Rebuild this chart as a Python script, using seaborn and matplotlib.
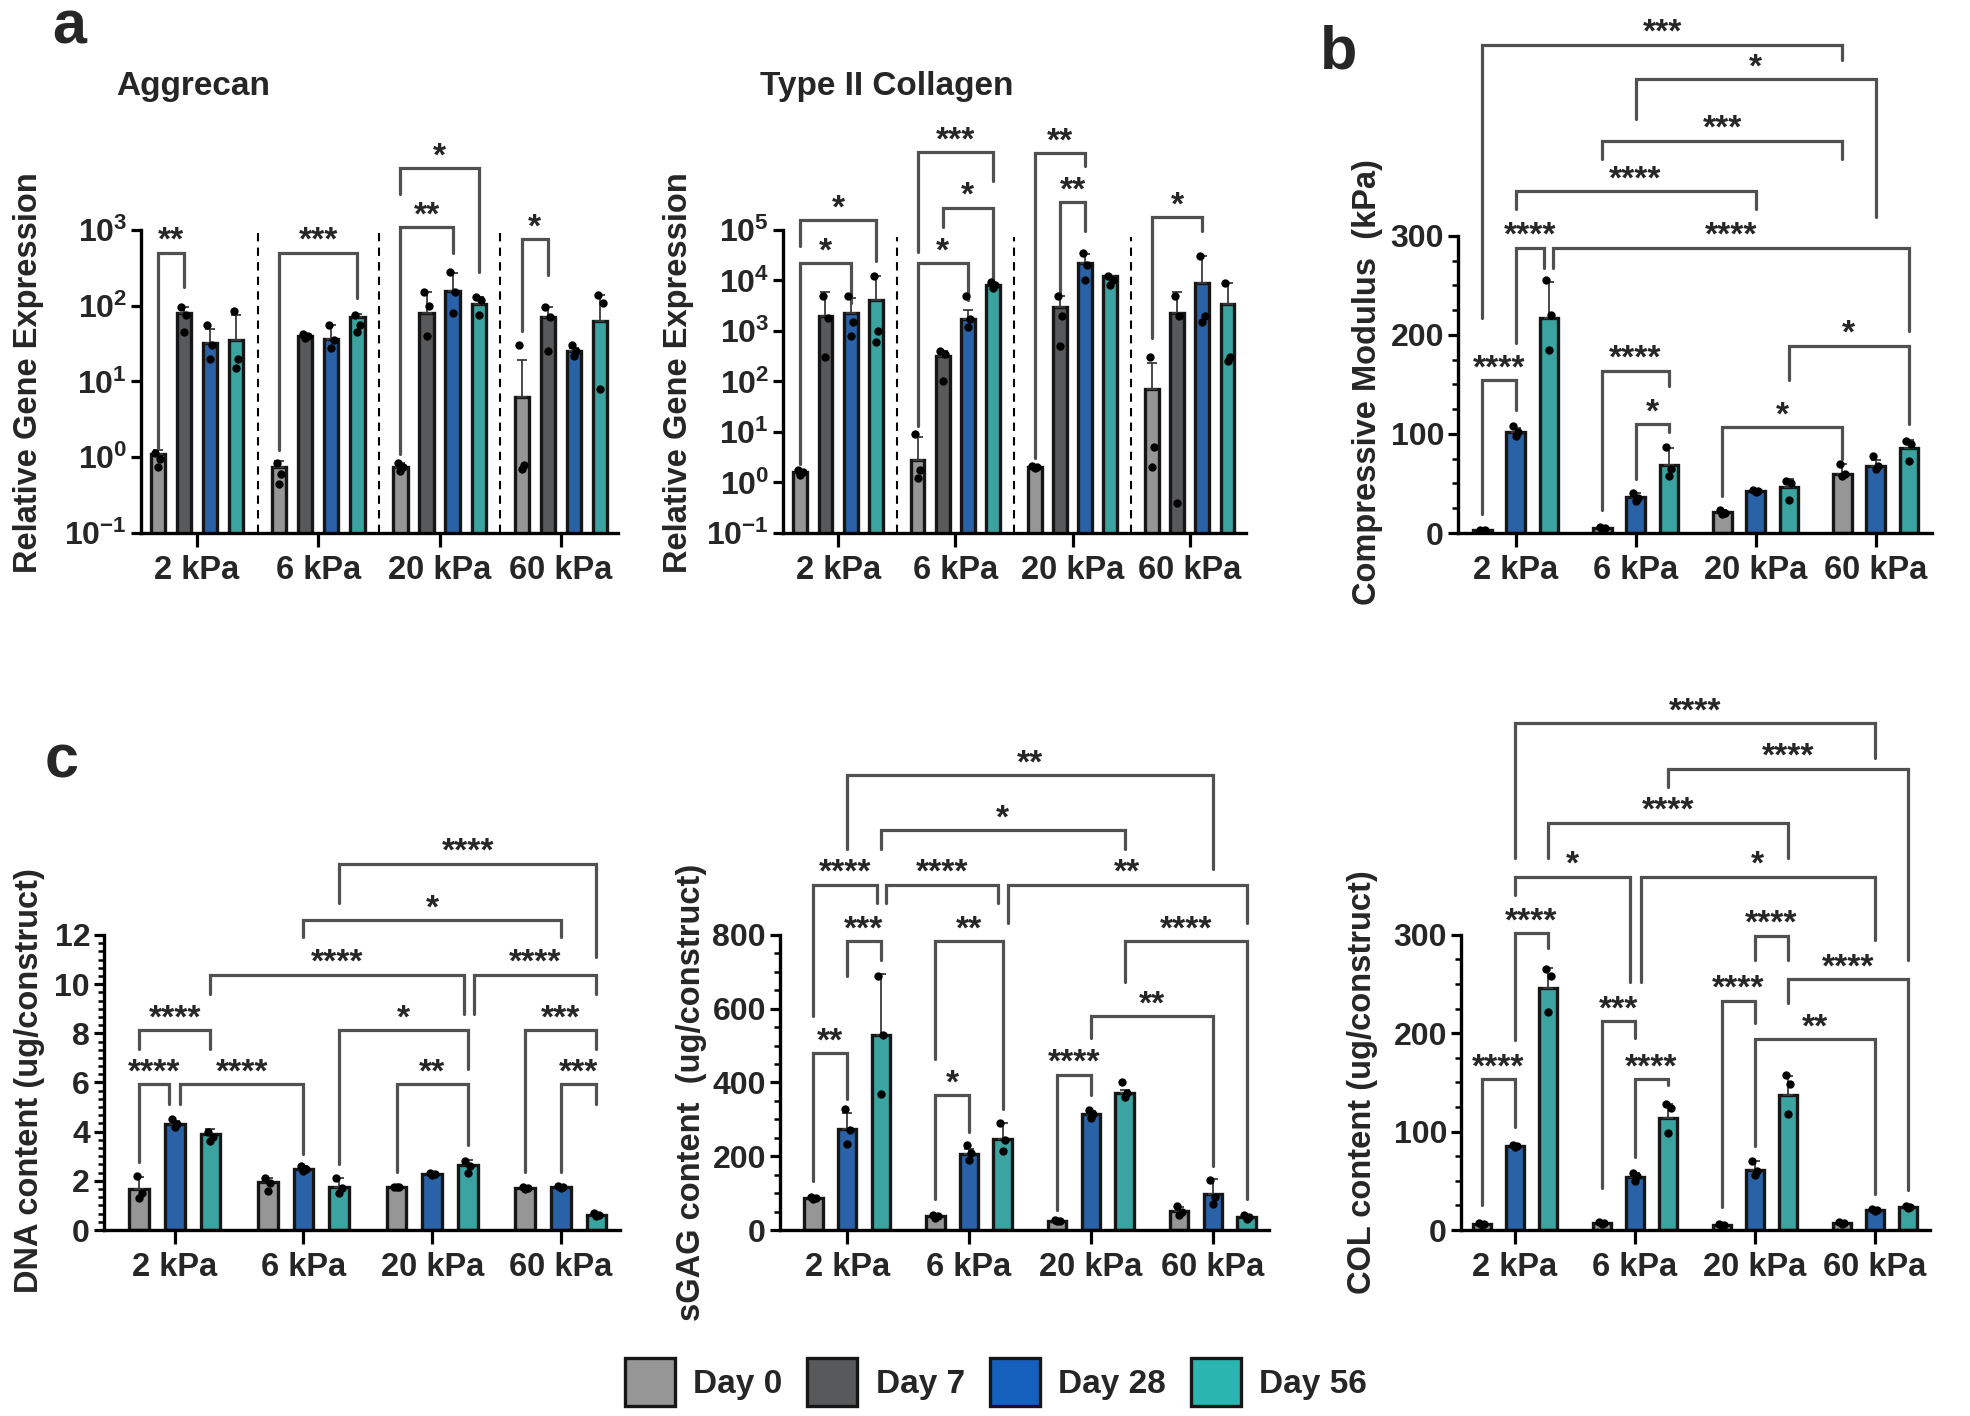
import numpy as np
import pandas as pd
import matplotlib
matplotlib.use("Agg")
import matplotlib.pyplot as plt
from matplotlib.patches import Patch
from matplotlib.ticker import FixedLocator, NullLocator
import seaborn as sns

sns.set_theme(style="ticks")
plt.rcParams['font.family'] = ['Liberation Sans', 'DejaVu Sans']
plt.rcParams['font.weight'] = 'bold'
plt.rcParams['axes.labelweight'] = 'bold'
plt.rcParams['mathtext.fontset'] = 'custom'
plt.rcParams['mathtext.rm'] = 'Liberation Sans:bold'
plt.rcParams['mathtext.bf'] = 'Liberation Sans:bold'

# ---------------- data ----------------
stiffness = ["2 kPa", "6 kPa", "20 kPa", "60 kPa"]
days4 = ["Day 0", "Day 7", "Day 28", "Day 56"]
days3 = ["Day 0", "Day 28", "Day 56"]
palette = {"Day 0": "#969696", "Day 7": "#58595b", "Day 28": "#1560bd", "Day 56": "#2ab5b0"}

# Aggrecan relative gene expression (mean, SD, replicates) per stiffness x day
agg_mean = [[1.1, 79, 32, 35], [0.75, 40, 36, 72], [0.75, 79, 158, 105], [6.3, 70, 25, 63]]
agg_sd = [[0.15, 16, 18, 41], [0.15, 3, 19, 6], [0.1, 71, 112, 25], [12.7, 25, 3, 77]]
agg_pts = [
    [[1.15, 0.95, 0.75], [95, 75, 45], [55, 30, 20], [85, 20, 15]],
    [[0.85, 0.6, 0.45], [42, 40, 38], [55, 35, 28], [75, 55, 45]],
    [[0.85, 0.75, 0.65], [150, 100, 40], [280, 150, 80], [130, 120, 75]],
    [[30, 0.8, 0.7], [95, 70, 25], [30, 25, 22], [140, 110, 8]],
]

# Type II collagen relative gene expression
col2_mean = [[1.6, 2000, 2300, 4200], [2.8, 316, 1750, 8000], [2.0, 3000, 22000, 12000], [70, 2300, 9100, 3500]]
col2_sd = [[0.2, 3900, 2300, 7800], [5.2, 84, 850, 1000], [0.1, 2000, 12000, 500], [164, 3600, 21900, 5600]]
col2_pts = [
    [[1.8, 1.6, 1.4], [5000, 1800, 300], [5000, 1500, 800], [12000, 1000, 600]],
    [[9, 1.8, 1.2], [400, 350, 100], [5000, 1700, 1200], [9500, 8000, 7000]],
    [[2.1, 2.0, 1.9], [5000, 2000, 500], [35000, 20000, 10000], [12000, 10000, 8000]],
    [[300, 5, 2], [5000, 2000, 0.4], [30000, 2000, 1500], [9000, 300, 250]],
]

# Compressive modulus (kPa)
mod_mean = [[3, 102, 217], [5, 36, 69], [21, 42, 46], [60, 68, 86]]
mod_sd = [[1, 4, 36], [1, 4, 17], [2, 1, 9], [10, 6, 8]]
mod_pts = [
    [[3, 3, 2.5], [108, 102, 98], [255, 220, 185]],
    [[6, 5, 4], [40, 35, 32], [87, 65, 58]],
    [[23, 20, 19], [43, 42, 41], [53, 50, 33]],
    [[70, 60, 58], [78, 68, 65], [93, 90, 73]],
]

# DNA content (ug/construct)
dna_mean = [[1.65, 4.3, 3.9], [1.95, 2.5, 1.75], [1.75, 2.27, 2.63], [1.69, 1.75, 0.6]]
dna_sd = [[0.5, 0.15, 0.2], [0.15, 0.1, 0.35], [0.02, 0.05, 0.2], [0.05, 0.05, 0.1]]
dna_pts = [
    [[2.2, 1.5, 1.3], [4.5, 4.3, 4.2], [4.0, 3.8, 3.6]],
    [[2.1, 1.9, 1.6], [2.6, 2.5, 2.4], [2.1, 1.7, 1.5]],
    [[1.76, 1.75, 1.74], [2.3, 2.27, 2.25], [2.8, 2.6, 2.3]],
    [[1.75, 1.7, 1.65], [1.8, 1.75, 1.72], [0.7, 0.6, 0.55]],
]

# sGAG content (ug/construct)
gag_mean = [[86, 274, 530], [38, 206, 248], [25, 314, 371], [51, 97, 35]]
gag_sd = [[4, 43, 163], [4, 15, 41], [2, 8, 10], [12, 40, 5]]
gag_pts = [
    [[90, 87, 83], [327, 270, 233], [690, 530, 370]],
    [[42, 38, 33], [230, 210, 190], [290, 245, 215]],
    [[26, 25, 24], [325, 315, 305], [400, 372, 360]],
    [[65, 50, 40], [135, 90, 70], [40, 35, 30]],
]

# COL content (ug/construct)
col_mean = [[6, 85, 246], [7, 54, 114], [5, 61, 137], [7, 20, 23]]
col_sd = [[1, 1, 20], [1, 4, 14], [1, 9, 20], [1, 1, 1]]
col_pts = [
    [[7, 6, 5], [86, 85, 84], [265, 258, 222]],
    [[8, 7, 6], [58, 55, 50], [128, 124, 99]],
    [[6, 5, 4], [70, 60, 56], [158, 148, 118]],
    [[8, 7, 6], [21, 20, 19], [24, 23, 22]],
]

# significance brackets: (group1, day1, dx1, leg1_end, group2, day2, dx2, leg2_end, bar_y, label)
agg_br = [
    (0, 0, 0, 1.33, 0, 1, 0, 178, 500, "**"),
    (1, 0, 0, 1.26, 1, 3, 0, 126, 500, "***"),
    (2, 0, 0, 1.1, 2, 2, 0, 500, 1085, "**"),
    (2, 0, 0, 2985, 2, 3, 0, 282, 6530, "*"),
    (3, 0, 0, 47, 3, 1, 0, 251, 750, "*"),
]
col2_br = [
    (0, 0, 0, 2.3, 0, 2, 0, 3550, 21900, "*"),
    (0, 0, 0, 47900, 0, 3, 0, 24000, 158000, "*"),
    (1, 0, 0, 13, 1, 2, 0, 4170, 21900, "*"),
    (1, 1, 0, 115000, 1, 3, 0, 10000, 275000, "*"),
    (1, 0, 0, 37000, 1, 3, 0, 933000, 3.47e6, "***"),
    (2, 1, 0, 5000, 2, 2, 0, 95500, 355000, "**"),
    (2, 0, 0, 3.0, 2, 2, 0, 1.86e6, 3.3e6, "**"),
    (3, 0, 0, 724, 3, 2, 0, 95500, 178000, "*"),
]
mod_br = [
    (0, 0, 0, 19, 0, 1, 0, 124, 154, "****"),
    (0, 1, 0, 192, 0, 2, -0.04, 268, 288, "****"),
    (0, 2, 0.035, 268, 3, 2, 0, 204, 288, "****"),
    (0, 1, 0, 327, 2, 1, 0, 327, 345, "****"),
    (1, 0, 0, 378, 3, 0, 0, 378, 396, "***"),
    (1, 1, 0, 418, 3, 1, 0, 319, 458, "*"),
    (0, 0, 0, 217, 3, 0, 0, 478, 493, "***"),
    (1, 0, 0, 23, 1, 2, 0, 148, 164, "****"),
    (1, 1, 0, 55, 1, 2, 0, 102, 110, "*"),
    (2, 0, 0, 37, 3, 0, 0, 75, 107, "*"),
    (2, 2, 0, 154, 3, 2, 0, 110, 189, "*"),
]
dna_br = [
    (0, 0, 0, 2.77, 0, 1, -0.045, 5.14, 5.92, "****"),
    (0, 0, 0, 7.36, 0, 2, 0, 7.36, 8.14, "****"),
    (0, 1, 0.04, 5.14, 1, 1, 0, 3.1, 5.92, "****"),
    (0, 2, 0, 9.6, 2, 2, -0.03, 8.78, 10.38, "****"),
    (2, 2, 0.045, 8.78, 3, 2, 0, 9.6, 10.38, "****"),
    (1, 1, 0, 11.9, 3, 1, 0, 11.9, 12.6, "*"),
    (1, 2, 0, 13.3, 3, 2, 0, 11.1, 14.9, "****"),
    (1, 2, 0, 2.7, 2, 2, 0, 6.55, 8.14, "*"),
    (2, 0, 0, 2.36, 2, 2, 0, 3.45, 5.92, "**"),
    (3, 0, 0, 2.36, 3, 2, 0, 7.36, 8.14, "***"),
    (3, 1, 0, 2.36, 3, 2, 0, 5.14, 5.92, "***"),
]
gag_br = [
    (0, 0, 0, 134, 0, 1, 0, 356, 480, "**"),
    (0, 1, 0, 688, 0, 2, 0, 733, 784, "***"),
    (0, 0, 0, 579, 0, 2, -0.035, 886, 936, "****"),
    (0, 2, 0.04, 886, 1, 2, -0.04, 886, 936, "****"),
    (0, 1, 0, 1032, 3, 1, 0, 978, 1233, "**"),
    (0, 2, 0, 1032, 2, 2, 0, 1032, 1084, "*"),
    (1, 2, 0.04, 832, 3, 2, 0, 832, 936, "**"),
    (1, 0, 0, 465, 1, 2, 0, 327, 784, "**"),
    (1, 0, 0, 84, 1, 1, 0, 267, 366, "*"),
    (2, 0, 0, 54, 2, 1, 0, 366, 421, "****"),
    (2, 1, 0, 520, 3, 1, 0, 173, 579, "**"),
    (2, 2, 0, 673, 3, 2, 0, 84, 784, "****"),
]
col_br = [
    (0, 0, 0, 25, 0, 1, 0, 105, 153, "****"),
    (0, 1, 0, 193, 0, 2, 0, 287, 302, "****"),
    (0, 1, 0, 340, 1, 1, -0.045, 252, 359, "*"),
    (0, 1, 0, 378, 3, 1, 0, 480, 515, "****"),
    (0, 2, 0, 378, 2, 2, 0, 378, 414, "****"),
    (1, 2, 0, 450, 3, 2, 0, 274, 469, "****"),
    (1, 1, 0.05, 252, 3, 1, 0, 295, 359, "*"),
    (1, 0, 0, 43, 1, 1, 0, 195, 212, "***"),
    (1, 1, 0, 74, 1, 2, 0, 147, 153, "****"),
    (2, 0, 0, 23, 2, 1, 0, 210, 233, "****"),
    (2, 1, 0, 274, 2, 2, 0, 274, 299, "****"),
    (2, 2, 0, 231, 3, 2, 0, 41, 255, "****"),
    (2, 1, 0, 85, 3, 1, 0, 37, 194, "**"),
]

# ---------------- styling ----------------
W, H = 1970, 1416
EDGE = "#161616"
BRC = "#505050"
fig = plt.figure(figsize=(W / 100, H / 100), dpi=100)


def rect(left, right, top, bottom):
    return [left / W, 1 - bottom / H, (right - left) / W, (bottom - top) / H]


def long_df(means, days):
    rows = []
    for gi, g in enumerate(stiffness):
        for hi, d in enumerate(days):
            rows.append({"Stiffness": g, "Day": d, "value": means[gi][hi]})
    return pd.DataFrame(rows)


def panel(r, means, sds, pts, days, brackets, xlim, ylim, log, yticks, yticklabels,
          minor, ylabel, lab_xy, width, gap):
    ax = fig.add_axes(r)
    if log:
        ax.set_yscale("log")
    df = long_df(means, days)
    sns.barplot(data=df, x="Stiffness", y="value", hue="Day", order=stiffness,
                hue_order=days, palette=palette, errorbar=None, width=width, gap=gap,
                edgecolor=EDGE, linewidth=2.4, legend=False, ax=ax, zorder=2)
    nh = len(days)
    bars = sorted(ax.patches, key=lambda p: p.get_x())
    centers = {}
    for i, p in enumerate(bars):
        centers[(i // nh, i % nh)] = p.get_x() + p.get_width() / 2
    jit = [-0.02, 0.02, 0.0, 0.01]
    for gi in range(4):
        for hi in range(nh):
            x = centers[(gi, hi)]
            ax.errorbar([x], [means[gi][hi]], yerr=[[0], [sds[gi][hi]]], fmt="none",
                        ecolor="#3a3a3a", elinewidth=1.3, capsize=3.5, capthick=1.3, zorder=3)
            vals = pts[gi][hi]
            ax.scatter([x + jit[k] for k in range(len(vals))], vals, s=36, color="black",
                       zorder=5, linewidths=0)
    for (g1, h1, d1, e1, g2, h2, d2, e2, yb, lab) in brackets:
        x1 = centers[(g1, h1)] + d1
        x2 = centers[(g2, h2)] + d2
        ax.plot([x1, x1, x2, x2], [e1, yb, yb, e2], color=BRC, lw=2.3, clip_on=False,
                zorder=4, solid_joinstyle="miter")
        ax.annotate(lab, xy=((x1 + x2) / 2, yb), xytext=(0, 2), textcoords="offset points",
                    ha="center", va="baseline", fontsize=24, fontweight="bold",
                    annotation_clip=False)
    ax.set_xlim(*xlim)
    ax.set_ylim(*ylim)
    ax.yaxis.set_major_locator(FixedLocator(yticks))
    ax.set_yticklabels(yticklabels)
    if minor is None:
        ax.yaxis.set_minor_locator(NullLocator())
    else:
        ax.yaxis.set_minor_locator(FixedLocator(minor))
    ax.set_xticks(range(4))
    ax.set_xticklabels(stiffness)
    ax.set_xlabel("")
    ax.set_ylabel(ylabel, fontsize=23.5, fontweight="bold", va="center")
    ax.yaxis.set_label_coords(*lab_xy)
    for s in ["top", "right"]:
        ax.spines[s].set_visible(False)
    for s in ["left", "bottom"]:
        ax.spines[s].set_linewidth(2.4)
        ax.spines[s].set_color("black")
    ax.spines["left"].set_bounds(yticks[0], yticks[-1])
    ax.tick_params(axis="y", which="major", length=7, width=2.3, labelsize=23, pad=3, color="black")
    ax.tick_params(axis="y", which="minor", length=4, width=1.8, color="black")
    ax.tick_params(axis="x", which="major", length=10, width=2.3, labelsize=23.5, pad=6, color="black")
    ax.set_facecolor("none")
    return ax, centers


log_labels = [r"$\mathbf{10^{%d}}$" % e for e in range(-1, 6)]

# panel a: Aggrecan
ax_agg, _ = panel(rect(141, 618, 100, 533), agg_mean, agg_sd, agg_pts, days4, agg_br,
                  (-0.46, 3.47), (0.1, 10 ** 4.716), True, [0.1, 1, 10, 100, 1000], log_labels[:5],
                  None, "Relative Gene Expression", (-0.235, 0.37), 0.86, 0.45)
ax_agg.vlines([0.5, 1.5, 2.5], 0.1, 1000, colors="black", linestyles=(0, (4, 3)), lw=1.5, zorder=1)

# panel a: Type II Collagen
ax_c2, _ = panel(rect(783, 1246, 100, 533), col2_mean, col2_sd, col2_pts, days4, col2_br,
                 (-0.47, 3.48), (0.1, 10 ** 7.574), True, [0.1, 1, 10, 100, 1e3, 1e4, 1e5], log_labels,
                 None, "Relative Gene Expression", (-0.225, 0.37), 0.86, 0.45)
ax_c2.vlines([0.5, 1.5, 2.5], 0.1, 10 ** 4.87, colors="black", linestyles=(0, (4, 3)), lw=1.5, zorder=1)

# panel b: compressive modulus
panel(rect(1458, 1932, 20, 533), mod_mean, mod_sd, mod_pts, days3, mod_br,
      (-0.48, 3.47), (0, 518), False, [0, 100, 200, 300], ["0", "100", "200", "300"],
      list(np.arange(0, 301, 25)), "Compressive Modulus  (kPa)", (-0.19, 0.294), 0.83, 0.45)

# panel c: DNA
panel(rect(104, 620, 800, 1230), dna_mean, dna_sd, dna_pts, days3, dna_br,
      (-0.55, 3.46), (0, 17.49), False, [0, 2, 4, 6, 8, 10, 12], ["0", "2", "4", "6", "8", "10", "12"],
      list(np.linspace(0, 12, 37)), "DNA content (ug/construct)", (-0.145, 0.347), 0.83, 0.45)

# panel c: sGAG
panel(rect(780, 1269, 720, 1230), gag_mean, gag_sd, gag_pts, days3, gag_br,
      (-0.55, 3.46), (0, 1383), False, [0, 200, 400, 600, 800], ["0", "200", "400", "600", "800"],
      list(np.arange(0, 801, 50)), "sGAG content  (ug/construct)", (-0.18, 0.269), 0.83, 0.45)

# panel c: COL
panel(rect(1461, 1930, 680, 1230), col_mean, col_sd, col_pts, days3, col_br,
      (-0.45, 3.46), (0, 559), False, [0, 100, 200, 300], ["0", "100", "200", "300"],
      list(np.arange(0, 301, 25)), "COL content (ug/construct)", (-0.21, 0.269), 0.83, 0.45)

# titles and panel letters
fig.text(116 / W, 1 - 87 / H, "Aggrecan", fontsize=24, fontweight="bold", ha="left", va="center")
fig.text(760 / W, 1 - 87 / H, "Type II Collagen", fontsize=24, fontweight="bold", ha="left", va="center")
fig.text(69 / W, 1 - 28 / H, "a", fontsize=44, fontweight="bold", ha="center", va="center")
fig.text(1339 / W, 1 - 53 / H, "b", fontsize=44, fontweight="bold", ha="center", va="center")
fig.text(62 / W, 1 - 762 / H, "c", fontsize=44, fontweight="bold", ha="center", va="center")

# legend
handles = [Patch(facecolor=palette[d], edgecolor=EDGE, linewidth=2.4, label=d) for d in days4]
fig.legend(handles=handles, loc="center", bbox_to_anchor=(996 / W, 1 - 1382 / H), ncol=4,
           frameon=False, prop={"weight": "bold", "size": 24},
           handlelength=1.5, handleheight=1.8, handletextpad=0.55, columnspacing=0.75)

fig.savefig("out.png", dpi=100)
